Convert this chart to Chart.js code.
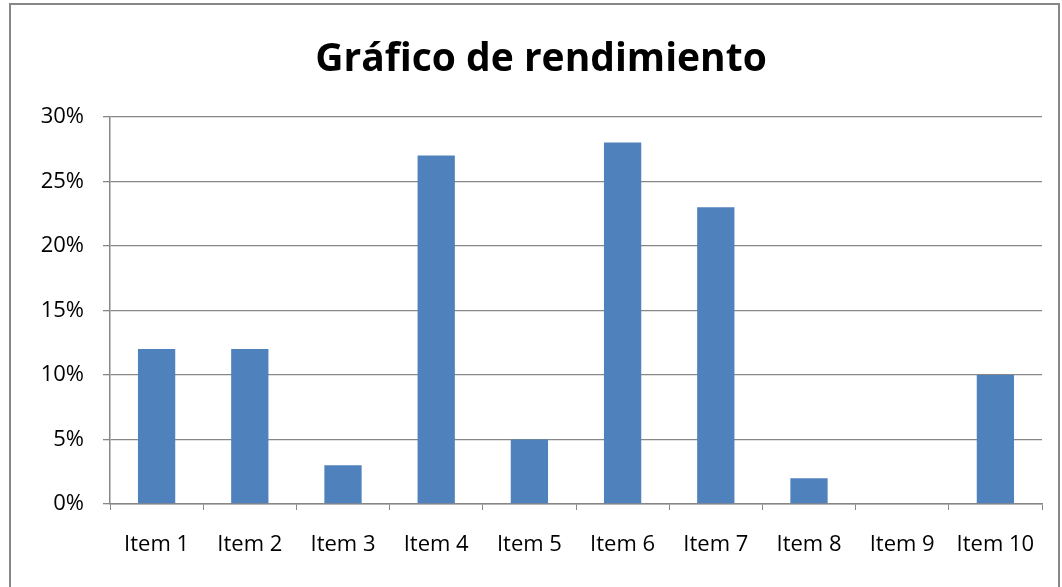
<!DOCTYPE html>
<html>
<head>
<meta charset="utf-8">
<script src="https://cdn.jsdelivr.net/npm/chart.js@4"></script>
<style>
  html, body { margin: 0; padding: 0; background: #fff; }
  #wrap { width: 1062px; height: 587px; position: relative; }
</style>
</head>
<body>
<div id="wrap"><canvas id="graph"></canvas></div>
<script>
var categories = ['Item 1', 'Item 2', 'Item 3', 'Item 4', 'Item 5', 'Item 6', 'Item 7', 'Item 8', 'Item 9', 'Item 10'];
var rendimiento = [12, 12, 3, 27, 5, 28, 23, 2, 0, 10];
var yTicks = [0, 5, 10, 15, 20, 25, 30];

var frameBorder = {
    id: 'frameBorder',
    beforeDraw: function (chart) {
        var c = chart.ctx;
        c.save();
        c.strokeStyle = '#878787';
        c.lineWidth = 2;
        c.strokeRect(10, 4, 1049, 600);
        c.restore();
    }
};

var ctx = document.getElementById('graph').getContext('2d');
var graph = new Chart(ctx, {
    type: 'bar',
    data: {
        labels: categories,
        datasets: [{
            label: 'Rendimiento',
            data: rendimiento,
            backgroundColor: '#4F81BD',
            barPercentage: 0.4,
            categoryPercentage: 1
        }]
    },
    options: {
        responsive: true,
        maintainAspectRatio: false,
        animation: false,
        // left padding keeps the title centred like the original
        layout: { padding: { left: 40, right: 20, top: 0, bottom: 0 } },
        plugins: {
            legend: { display: false },
            tooltip: { enabled: false },
            title: {
                display: true,
                text: 'Gráfico de rendimiento',
                color: '#000',
                font: { family: 'Open Sans', size: 39, weight: 'bold' },
                padding: { top: 36, bottom: 34 }
            }
        },
        scales: {
            x: {
                offset: true,
                grid: { drawOnChartArea: false, drawTicks: true, tickLength: 6, color: '#878787', offset: true },
                border: { color: '#878787', width: 1.5 },
                ticks: {
                    color: '#000',
                    font: { family: 'Open Sans', size: 22 },
                    padding: 22,
                    maxRotation: 0
                },
                afterFit: function (scale) { scale.height = 83; }
            },
            y: {
                min: 0,
                max: 30,
                afterBuildTicks: function (scale) {
                    scale.ticks = yTicks.map(function (v) { return { value: v }; });
                },
                grid: { color: '#878787', lineWidth: 1.3, tickLength: 7 },
                border: { color: '#878787', width: 1.5 },
                ticks: {
                    color: '#000',
                    font: { family: 'Open Sans', size: 22 },
                    padding: 19,
                    callback: function (v) { return v + '%'; }
                },
                afterFit: function (scale) { scale.width = 70; }
            }
        }
    },
    plugins: [frameBorder]
});
</script>
</body>
</html>
